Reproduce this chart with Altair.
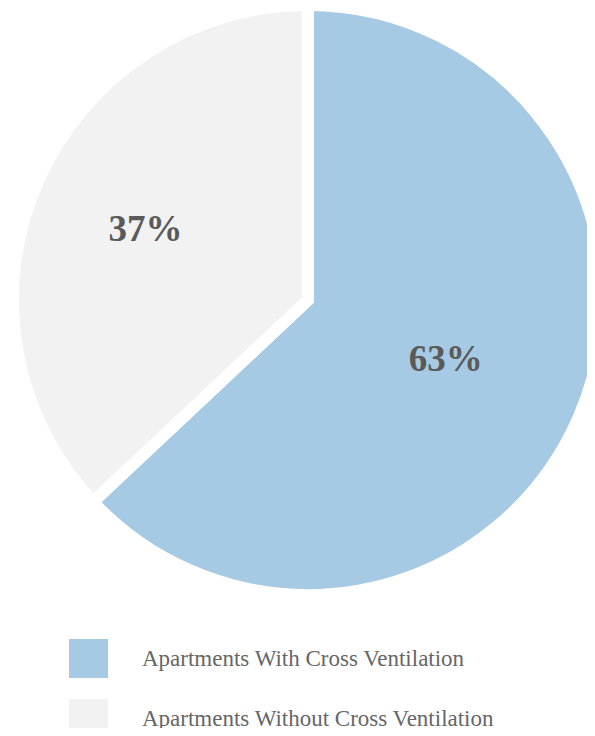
import altair as alt
import pandas as pd

categories = ["Apartments With Cross Ventilation", "Apartments Without Cross Ventilation"]
values = [63, 37]
labels = ["63%", "37%"]
colors = ["#a7cae4", "#f2f2f2"]

df = pd.DataFrame({"category": categories, "value": values, "label": labels, "order": [0, 1]})

cx, cy = 300, 292

base = alt.Chart(df).transform_stack(
    stack="value", groupby=[], as_=["v0", "v1"], sort=[alt.SortField("order", order="ascending")]
).transform_calculate(mid="(datum.v0 + datum.v1) / 2")

pie = base.mark_arc(outerRadius=295, stroke="white", strokeWidth=12).encode(
    theta=alt.Theta("v0:Q", scale=alt.Scale(domain=[0, 100])),
    theta2="v1:Q",
    x=alt.value(cx),
    y=alt.value(cy),
    color=alt.Color(
        "category:N",
        scale=alt.Scale(domain=categories, range=colors),
        sort=categories,
        legend=alt.Legend(
            title=None,
            orient="none",
            legendX=61,
            legendY=631,
            symbolType="square",
            symbolSize=1521,
            symbolStrokeWidth=0,
            symbolOpacity=1,
            labelFont="Liberation Serif",
            labelFontSize=23,
            labelColor="#666666",
            labelOffset=34,
            rowPadding=21,
            padding=0,
            labelLimit=500,
        ),
    ),
)

txt_kw = dict(font="Liberation Serif", fontSize=37, fontWeight="bold", color="#5a5a5a",
              align="center", baseline="middle")

t1 = base.mark_text(radius=150, **txt_kw).encode(
    theta=alt.Theta("mid:Q", scale=alt.Scale(domain=[0, 100])),
    x=alt.value(cx), y=alt.value(cy), text="label:N"
).transform_filter(alt.datum.order == 0)

t2 = base.mark_text(radius=177, **txt_kw).encode(
    theta=alt.Theta("mid:Q", scale=alt.Scale(domain=[0, 100])),
    x=alt.value(cx), y=alt.value(cy), text="label:N"
).transform_filter(alt.datum.order == 1)

chart = alt.layer(pie, t1, t2).properties(
    width=579, height=720, autosize=alt.AutoSizeParams(type="none"), padding=0
).configure_view(stroke=None)

chart.save("out.html", embed_options={"renderer": "svg", "actions": False})
